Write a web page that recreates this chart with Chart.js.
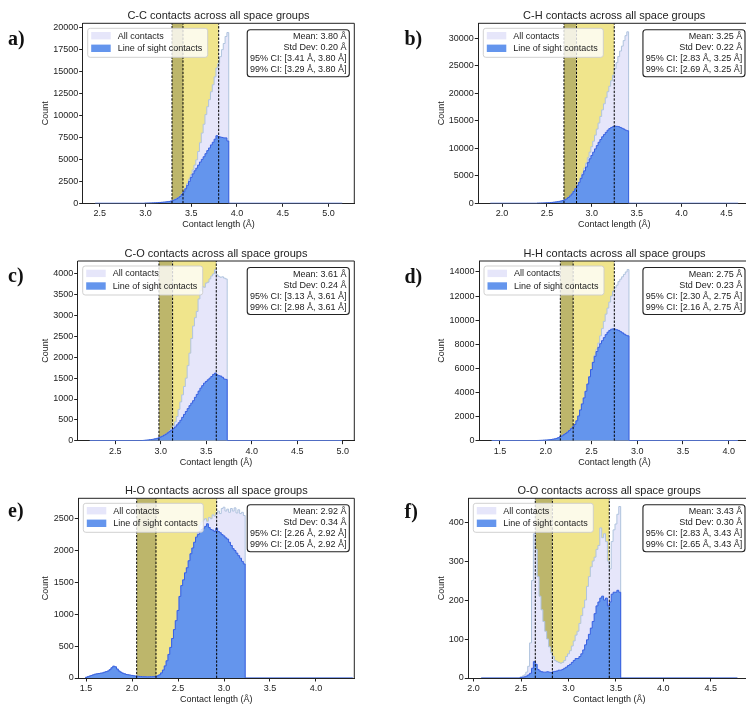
<!DOCTYPE html>
<html>
<head>
<meta charset="utf-8">
<script src="https://cdn.jsdelivr.net/npm/chart.js@4.4.1/dist/chart.umd.min.js"></script>
<style>
html, body { margin: 0; padding: 0; background: #fff; }
body { width: 746px; height: 705px; overflow: hidden; position: relative; }
canvas { position: absolute; }
.tag { position: absolute; font: bold 20px "Liberation Serif", "DejaVu Serif", serif; line-height: 20px; color: #111; }
</style>
</head>
<body>
<script>
// Series names, shared by every panel.
SERIES_LABELS = ['All contacts', 'Line of sight contacts'];

// Panel letters and titles.
TAGS = ['a)', 'b)', 'c)', 'd)', 'e)', 'f)'];
TITLES = ['C-C contacts across all space groups', 'C-H contacts across all space groups',
          'C-O contacts across all space groups', 'H-H contacts across all space groups',
          'H-O contacts across all space groups', 'O-O contacts across all space groups'];

// Statistics printed in the box and drawn as dashed lines / shaded spans.
MEANS = [3.80, 3.25, 3.61, 2.75, 2.92, 3.43];
STDS = [0.20, 0.22, 0.24, 0.23, 0.34, 0.30];
CI95 = [[3.41, 3.80], [2.83, 3.25], [3.13, 3.61], [2.30, 2.75], [2.26, 2.92], [2.83, 3.43]];
CI99 = [[3.29, 3.80], [2.69, 3.25], [2.98, 3.61], [2.16, 2.75], [2.05, 2.92], [2.65, 3.43]];

// Tick labels.
X_TICKS = [[2.5, 3.0, 3.5, 4.0, 4.5, 5.0], [2.0, 2.5, 3.0, 3.5, 4.0, 4.5],
           [2.5, 3.0, 3.5, 4.0, 4.5, 5.0], [1.5, 2.0, 2.5, 3.0, 3.5, 4.0],
           [1.5, 2.0, 2.5, 3.0, 3.5, 4.0], [2.0, 2.5, 3.0, 3.5, 4.0, 4.5]];
Y_TICKS = [[0, 2500, 5000, 7500, 10000, 12500, 15000, 17500, 20000],
           [0, 5000, 10000, 15000, 20000, 25000, 30000],
           [0, 500, 1000, 1500, 2000, 2500, 3000, 3500, 4000],
           [0, 2000, 4000, 6000, 8000, 10000, 12000, 14000],
           [0, 500, 1000, 1500, 2000, 2500],
           [0, 100, 200, 300, 400]];

// Histogram bins: first bin edge, bin width, and the full data range (empty bins are zero).
BIN_START = [2.99, 2.39, 2.79, 1.91, 1.49, 2.49];
BIN_WIDTH = 0.02;
DATA_RANGE = [[2.45, 5.15], [1.87, 4.63], [2.22, 4.99], [1.41, 4.10], [1.49, 4.40], [2.08, 4.78]];

// C-C counts per bin.
CC_ALL = [20, 25, 30, 35, 45, 55, 65, 80, 95, 110, 130, 150, 180, 210, 250,
          320, 420, 530, 650, 820, 1050,
          1350, 1750, 2250, 2750, 3250, 3800, 4350, 4950,
          5900, 6900, 8000, 9000, 10100, 11000, 11800, 12700, 13500, 14400, 15400, 15900,
          16700, 17500, 18200, 19000, 19450];
CC_LOS = [20, 25, 30, 35, 45, 55, 65, 80, 95, 110, 130, 150, 180, 210, 250,
          300, 400, 500, 620, 780, 1000,
          1300, 1650, 2050, 2500, 2950, 3350, 3700, 4000,
          4350, 4700, 5000, 5300, 5650, 6000, 6300, 6650, 6950, 7300, 7700, 7600,
          7550, 7500, 7450, 7450, 7100];

// C-H counts per bin.
CH_ALL = [30, 40, 50, 60, 75, 90, 110, 130, 160, 200, 240, 290, 350, 420, 500,
          620, 800, 1050, 1350, 1700, 2150, 2650, 3200, 3800,
          4700, 5500, 6400, 7300, 8300, 9300, 10300, 11300, 12400, 13500,
          14600, 15800, 17000, 18100, 19200, 20300, 21300, 22300, 23300, 24500,
          25600, 26700, 27700, 28600, 29600, 30500, 31200];
CH_LOS = [30, 40, 50, 60, 75, 90, 110, 130, 160, 200, 240, 290, 350, 420, 500,
          620, 800, 1050, 1350, 1700, 2150, 2650, 3200, 3800,
          4500, 5200, 5900, 6600, 7400, 8100, 8700, 9300, 9900, 10500,
          11100, 11600, 12100, 12500, 12900, 13300, 13600, 13800, 13950, 14050,
          14000, 13950, 13800, 13650, 13500, 13300, 13200];

// C-O counts per bin.
CO_ALL = [5, 8, 12, 16, 22, 28, 35, 45, 55, 70, 90, 110, 135, 160, 190,
          240, 290, 360, 450, 580, 750, 930, 1100, 1300, 1500,
          1800, 2100, 2450, 2750, 2950, 3100, 3400, 3600, 3700, 3680,
          3780, 3800, 3880, 3950, 4000, 4100, 3980, 3940, 3920, 3930, 3900, 3880];
CO_LOS = [5, 8, 12, 16, 22, 28, 35, 45, 55, 70, 90, 110, 135, 160, 190,
          225, 255, 290, 330, 380, 430, 490, 560, 630, 700,
          770, 840, 900, 960, 1040, 1110, 1190, 1260, 1320, 1380,
          1420, 1460, 1500, 1540, 1590, 1620, 1580, 1560, 1550, 1520, 1480, 1470];

// H-H counts per bin.
HH_ALL = [20, 25, 30, 40, 50, 60, 75, 95, 120, 150, 190, 250, 330, 400, 500, 600, 720, 850, 1000, 1150,
          1350, 1650, 2050, 2550, 3050, 3550, 4100, 4700, 5300, 5900, 6500,
          7100, 7600, 8100, 8700, 9300, 9900, 10500, 11000, 11500, 12000,
          12400, 12700, 12900, 13200, 13400, 13600, 13800, 14000, 14200];
HH_LOS = [20, 25, 30, 40, 50, 60, 75, 95, 120, 150, 190, 250, 330, 400, 500, 600, 720, 850, 1000, 1150,
          1350, 1650, 2050, 2550, 3050, 3550, 4100, 4700, 5300, 5900, 6500,
          7000, 7400, 7750, 8050, 8300, 8550, 8800, 9000, 9150, 9250,
          9280, 9250, 9200, 9150, 9050, 8950, 8850, 8750, 8700];

// H-O counts per bin.
HO_ALL = [10, 20, 30, 40, 50, 60, 65, 70, 75, 80,
          90, 100, 110, 130, 160, 185, 175, 140, 110, 90,
          75, 65, 55, 50, 45, 40, 35, 30, 28, 25,
          22, 20, 20, 18, 18, 20, 20, 22, 25, 35,
          50, 80, 125, 190, 270, 370, 480, 620, 760, 900,
          1060, 1280, 1450, 1540, 1650, 1730, 1840, 1950, 2040, 2130,
          2210, 2300, 2400, 2450, 2480, 2500, 2460, 2520, 2500, 2560,
          2540, 2590, 2620, 2580, 2660, 2680, 2620, 2650, 2600, 2660,
          2620, 2670, 2590, 2640, 2580, 2600, 2550];
HO_LOS = [10, 20, 30, 40, 50, 60, 65, 70, 75, 80,
          90, 100, 110, 130, 160, 185, 175, 140, 110, 90,
          75, 65, 55, 50, 45, 40, 35, 30, 28, 25,
          22, 20, 20, 18, 18, 20, 20, 22, 25, 35,
          50, 80, 125, 190, 270, 370, 480, 620, 760, 900,
          1060, 1280, 1450, 1540, 1650, 1730, 1840, 1950, 2040, 2130,
          2210, 2250, 2300, 2330, 2350, 2380, 2420, 2360, 2330, 2320,
          2300, 2350, 2300, 2280, 2250, 2230, 2200, 2180, 2130, 2080,
          2030, 2000, 1960, 1920, 1880, 1830, 1790];

// O-O counts per bin.
OO_ALL = [3, 5, 8, 15, 30, 90, 250, 370, 330, 260,
          210, 175, 145, 120, 100, 80, 65, 55, 45, 42,
          40, 38, 40, 45, 55, 62, 70, 82, 95, 110,
          120, 140, 160, 180, 200, 235, 260, 285, 300, 310,
          330, 340, 385, 360, 370, 350, 300, 280, 350, 380,
          395, 420, 440];
OO_LOS = [1, 2, 3, 5, 8, 12, 25, 42, 35, 22,
          18, 16, 15, 15, 16, 15, 14, 16, 17, 18,
          20, 20, 22, 25, 28, 32, 35, 40, 45, 50,
          50, 55, 62, 72, 85, 98, 112, 128, 145, 165,
          185, 195, 205, 210, 200, 205, 185, 195, 215, 220,
          220, 225, 220];

ALL_COUNTS = [CC_ALL, CH_ALL, CO_ALL, HH_ALL, HO_ALL, OO_ALL];
LOS_COUNTS = [CC_LOS, CH_LOS, CO_LOS, HH_LOS, HO_LOS, OO_LOS];

// Colours.
ALL_FILL = 'rgb(230, 230, 250)';
ALL_EDGE = 'rgb(176, 196, 222)';
LOS_FILL = 'rgb(100, 149, 237)';
LOS_EDGE = 'rgb(55, 95, 225)';
SPAN_95_COLOR = 'rgb(240, 229, 140)';
SPAN_99_COLOR = 'rgb(189, 182, 107)';
INK = '#222';
FONT = '"Liberation Sans", Arial, sans-serif';

// Where each panel sits on the page: canvas box and plot area, axis limits, label spots.
PANELS = [
    {cl: 0,   ct: 0,   cw: 373, ch: 235, area: [82.7, 23.3, 354.3, 203.3], x: [2.314, 5.282], ymax: 20500, countX: 45.3, labelY: 225, tag: [8, 27.5]},
    {cl: 373, ct: 0,   cw: 380, ch: 235, area: [478.3, 23.3, 750, 203.3], x: [1.736, 4.762], ymax: 32750, countX: 441.3, labelY: 225, tag: [404.5, 27.8]},
    {cl: 0,   ct: 235, cw: 373, ch: 235, area: [77.7, 261, 354.3, 440.7], x: [2.087, 5.127], ymax: 4310, countX: 45.3, labelY: 462.5, tag: [8, 265.2]},
    {cl: 373, ct: 235, cw: 380, ch: 235, area: [479, 261, 750, 440.7], x: [1.271, 4.233], ymax: 14910, countX: 441.3, labelY: 462.5, tag: [404.5, 265.8]},
    {cl: 0,   ct: 470, cw: 373, ch: 235, area: [78.3, 498.3, 354.3, 678], x: [1.415, 4.417], ymax: 2820, countX: 45.3, labelY: 699.3, tag: [8, 500]},
    {cl: 373, ct: 470, cw: 380, ch: 235, area: [468.3, 498.3, 750, 678], x: [1.944, 4.913], ymax: 461, countX: 441.3, labelY: 699.3, tag: [404.5, 501]},
];

Chart.defaults.font.family = FONT;
Chart.defaults.color = INK;

function histPoints(i, counts) {
    let start = BIN_START[i];
    let pts = [];
    if (DATA_RANGE[i][0] < start) {
        pts.push({x: DATA_RANGE[i][0], y: 0});
    }
    counts.forEach(function(c, k) {
        pts.push({x: start + k * BIN_WIDTH, y: c});
    });
    pts.push({x: start + counts.length * BIN_WIDTH, y: 0});
    pts.push({x: DATA_RANGE[i][1], y: 0});
    return pts;
}

function roundRect(ctx, x, y, w, h, r) {
    ctx.beginPath();
    ctx.moveTo(x + r, y);
    ctx.arcTo(x + w, y, x + w, y + h, r);
    ctx.arcTo(x + w, y + h, x, y + h, r);
    ctx.arcTo(x, y + h, x, y, r);
    ctx.arcTo(x, y, x + w, y, r);
    ctx.closePath();
}

function fmt(v) {
    return v.toFixed(2) + ' Å';
}

// Draws the title, the top/right frame, the legend and the statistics box.
const panelDecor = {
    id: 'panelDecor',
    afterDraw(chart, args, opts) {
        const i = opts.index;
        const ctx = chart.ctx;
        const a = chart.chartArea;
        ctx.save();

        ctx.strokeStyle = INK;
        ctx.lineWidth = 1;
        ctx.beginPath();
        ctx.moveTo(a.left, a.top);
        ctx.lineTo(a.right, a.top);
        ctx.lineTo(a.right, a.bottom);
        ctx.stroke();

        ctx.fillStyle = INK;
        ctx.font = '11px ' + FONT;
        ctx.textAlign = 'center';
        ctx.textBaseline = 'middle';
        ctx.fillText(TITLES[i], (a.left + a.right) / 2, a.top - 7.5);

        // Legend.
        const lx = a.left + 5, ly = a.top + 5;
        roundRect(ctx, lx, ly, 120, 29, 2.5);
        ctx.fillStyle = 'rgba(255, 255, 255, 0.8)';
        ctx.fill();
        ctx.strokeStyle = 'rgba(204, 204, 204, 0.9)';
        ctx.stroke();
        ctx.font = '9px ' + FONT;
        ctx.textAlign = 'left';
        [ALL_FILL, LOS_FILL].forEach(function(color, j) {
            const cy = ly + 7.4 + j * 12.6;
            ctx.fillStyle = color;
            ctx.fillRect(lx + 3.5, cy - 3.7, 19.5, 7.4);
            ctx.fillStyle = INK;
            ctx.fillText(SERIES_LABELS[j], lx + 30, cy + 0.5);
        });

        // Statistics box.
        const lines = ['Mean: ' + fmt(MEANS[i]), 'Std Dev: ' + fmt(STDS[i]),
                       '95% CI: [' + fmt(CI95[i][0]) + ', ' + fmt(CI95[i][1]) + ']',
                       '99% CI: [' + fmt(CI99[i][0]) + ', ' + fmt(CI99[i][1]) + ']'];
        let w = 0;
        lines.forEach(function(t) { w = Math.max(w, ctx.measureText(t).width); });
        w += 5.5;
        const bx = a.right - 5 - w, by = a.top + 6.5;
        roundRect(ctx, bx, by, w, 47, 3);
        ctx.fillStyle = '#fff';
        ctx.fill();
        ctx.strokeStyle = INK;
        ctx.lineWidth = 1.1;
        ctx.stroke();
        ctx.fillStyle = INK;
        ctx.textAlign = 'right';
        lines.forEach(function(t, j) {
            ctx.fillText(t, a.right - 7.7, by + 7.2 + j * 10.8);
        });
        ctx.restore();
    }
};

function buildPanel(i) {
    const P = PANELS[i];
    const canvas = document.createElement('canvas');
    canvas.width = P.cw;
    canvas.height = P.ch;
    canvas.style.left = P.cl + 'px';
    canvas.style.top = P.ct + 'px';
    document.body.appendChild(canvas);

    const tag = document.createElement('div');
    tag.className = 'tag';
    tag.textContent = TAGS[i];
    tag.style.left = P.tag[0] + 'px';
    tag.style.top = P.tag[1] + 'px';
    document.body.appendChild(tag);

    const ymax = P.ymax;
    const vline = function(v) {
        return {data: [{x: v, y: 0}, {x: v, y: ymax}], borderColor: '#000', borderWidth: 1,
                borderDash: [2.4, 1.4], fill: false, order: 0};
    };
    const span = function(lo, hi, color) {
        return {data: [{x: lo, y: ymax}, {x: hi, y: ymax}], borderWidth: 0, borderColor: color,
                backgroundColor: color, fill: 'origin', order: 3};
    };

    new Chart(canvas.getContext('2d'), {
        type: 'line',
        data: {
            datasets: [
                vline(CI99[i][0]), vline(CI95[i][0]), vline(MEANS[i]),
                {label: SERIES_LABELS[1], data: histPoints(i, LOS_COUNTS[i]), stepped: true, fill: 'origin',
                 backgroundColor: LOS_FILL, borderColor: LOS_EDGE, borderWidth: 1, order: 1},
                {label: SERIES_LABELS[0], data: histPoints(i, ALL_COUNTS[i]), stepped: true, fill: 'origin',
                 backgroundColor: ALL_FILL, borderColor: ALL_EDGE, borderWidth: 1, order: 2},
                span(CI99[i][0], CI95[i][0], SPAN_99_COLOR),
                span(CI95[i][0], MEANS[i], SPAN_95_COLOR),
            ]
        },
        plugins: [panelDecor],
        options: {
            responsive: false,
            animation: false,
            devicePixelRatio: 1,
            layout: {padding: {left: 0, top: P.area[1] - P.ct, right: P.cl + P.cw - P.area[2], bottom: 0}},
            elements: {point: {radius: 0}, line: {tension: 0}},
            plugins: {legend: {display: false}, tooltip: {enabled: false}, panelDecor: {index: i}},
            scales: {
                x: {
                    type: 'linear',
                    min: P.x[0],
                    max: P.x[1],
                    afterFit: function(s) { s.height = P.ct + P.ch - P.area[3]; },
                    afterBuildTicks: function(s) { s.ticks = X_TICKS[i].map(function(v) { return {value: v}; }); },
                    ticks: {callback: function(v) { return v.toFixed(1); }, font: {size: 9}, maxRotation: 0,
                            autoSkip: false, padding: 1.5, color: INK},
                    grid: {drawOnChartArea: false, drawTicks: true, tickLength: 3.5, color: INK},
                    border: {color: INK, width: 1},
                    title: {display: true, text: 'Contact length (Å)', font: {size: 9}, color: INK,
                            padding: {top: 0, bottom: P.ct + P.ch - P.labelY - 5.4}},
                },
                y: {
                    type: 'linear',
                    min: 0,
                    max: ymax,
                    afterFit: function(s) { s.width = P.area[0] - P.cl; },
                    afterBuildTicks: function(s) { s.ticks = Y_TICKS[i].map(function(v) { return {value: v}; }); },
                    ticks: {callback: function(v) { return String(v); }, font: {size: 9}, padding: 1, color: INK},
                    grid: {drawOnChartArea: false, drawTicks: true, tickLength: 3.5, color: INK},
                    border: {color: INK, width: 1},
                    title: {display: true, text: 'Count', font: {size: 9}, color: INK,
                            padding: {top: P.countX - P.cl - 5.4, bottom: 0}},
                },
            },
        },
    });
}

for (let i = 0; i < PANELS.length; i++) {
    buildPanel(i);
}
</script>
</body>
</html>
